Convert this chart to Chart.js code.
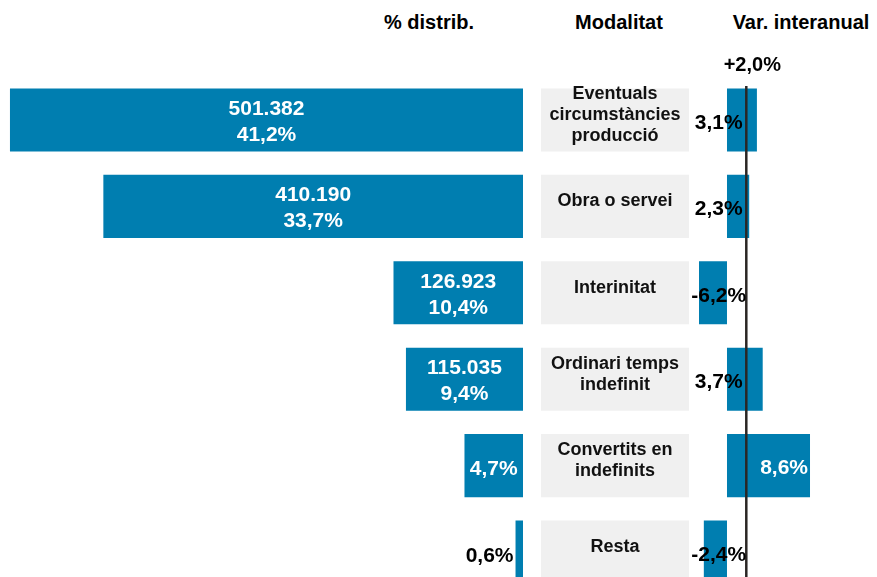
<!DOCTYPE html>
<html>
<head>
<meta charset="utf-8">
<script src="https://cdn.jsdelivr.net/npm/chart.js@4.4.1/dist/chart.umd.min.js"></script>
<style>
  html, body { margin: 0; padding: 0; background: #fff; overflow: hidden; }
  #wrap { position: relative; width: 877px; height: 577px; overflow: hidden; font-family: 'Liberation Sans', Arial, sans-serif; }
  .panel { position: absolute; top: 0; height: 600px; }
  .head { position: absolute; top: 10px; width: 200px; text-align: center; font-weight: bold; font-size: 20px; line-height: 24px; color: #000; }
</style>
</head>
<body>
<div id="wrap">
  <div class="head" style="left:329px">% distrib.</div>
  <div class="head" style="left:519px">Modalitat</div>
  <div class="head" style="left:701px">Var. interanual</div>
  <div class="panel" style="left:0;width:523px"><canvas id="left" width="523" height="600"></canvas></div>
  <div class="panel" style="left:541px;width:148px"><canvas id="mid" width="148" height="600"></canvas></div>
  <div class="panel" style="left:680px;width:197px"><canvas id="right" width="197" height="600"></canvas></div>
</div>
<script>
const categories = [
  ['Eventuals', 'circumstàncies', 'producció'],
  ['Obra o servei'],
  ['Interinitat'],
  ['Ordinari temps', 'indefinit'],
  ['Convertits en', 'indefinits'],
  ['Resta']
];
const contracts = [501382, 410190, 126923, 115035, null, null];
const distribution = [41.2, 33.7, 10.4, 9.4, 4.7, 0.6];
const variation = [3.1, 2.3, -6.2, 3.7, 8.6, -2.4];
const averageVariation = 2.0;

const BLUE = '#007eb0';
const FONT = '"Liberation Sans", Arial, sans-serif';
const PAD = { top: 76.8, bottom: 4.8, left: 0, right: 0 };

function fmtInt(n) {
  return String(n).replace(/\B(?=(\d{3})+(?!\d))/g, '.');
}
function fmtPct(v) {
  return v.toFixed(1).replace('.', ',') + '%';
}

function baseOptions(xScale, padding) {
  return {
    indexAxis: 'y',
    responsive: false,
    animation: false,
    events: [],
    layout: { padding },
    plugins: { legend: { display: false }, tooltip: { enabled: false } },
    scales: {
      x: Object.assign({ display: false, grid: { display: false } }, xScale),
      y: { display: false, grid: { display: false } }
    }
  };
}

function barDataset(data, color) {
  return { data, backgroundColor: color, borderWidth: 0, barPercentage: 0.73, categoryPercentage: 1 };
}

// labels on the distribution bars
const leftLabels = {
  id: 'leftLabels',
  afterDatasetsDraw(chart) {
    const ctx = chart.ctx;
    const meta = chart.getDatasetMeta(0);
    ctx.save();
    ctx.font = 'bold 21px ' + FONT;
    ctx.textBaseline = 'middle';
    meta.data.forEach((bar, i) => {
      const pct = fmtPct(distribution[i]);
      const width = Math.abs(bar.base - bar.x);
      const cx = (bar.x + bar.base) / 2;
      const cy = bar.y + 2;
      if (contracts[i] != null) {
        ctx.fillStyle = '#fff';
        ctx.textAlign = 'center';
        ctx.fillText(fmtInt(contracts[i]), cx, cy - 13);
        ctx.fillText(pct, cx, cy + 13);
      } else if (ctx.measureText(pct).width + 6 < width) {
        ctx.fillStyle = '#fff';
        ctx.textAlign = 'center';
        ctx.fillText(pct, cx, bar.y + 4);
      } else {
        ctx.fillStyle = '#000';
        ctx.textAlign = 'right';
        ctx.fillText(pct, bar.x - 2, bar.y + 4);
      }
    });
    ctx.restore();
  }
};

// category names inside the grey boxes
const midLabels = {
  id: 'midLabels',
  afterDatasetsDraw(chart) {
    const ctx = chart.ctx;
    const meta = chart.getDatasetMeta(0);
    ctx.save();
    ctx.font = 'bold 18px ' + FONT;
    ctx.textAlign = 'center';
    ctx.textBaseline = 'middle';
    ctx.fillStyle = '#111';
    meta.data.forEach((bar, i) => {
      const lines = categories[i];
      const cx = (bar.x + bar.base) / 2;
      const top = bar.y - 5 - (lines.length - 1) * 21 / 2;
      lines.forEach((t, k) => ctx.fillText(t, cx, top + k * 21));
    });
    ctx.restore();
  }
};

// variation labels and the average line
const rightLabels = {
  id: 'rightLabels',
  afterDatasetsDraw(chart) {
    const ctx = chart.ctx;
    const xs = chart.scales.x;
    const meta = chart.getDatasetMeta(0);
    ctx.save();
    const ax = xs.getPixelForValue(averageVariation);
    ctx.strokeStyle = '#2a2624';
    ctx.lineWidth = 2.5;
    ctx.beginPath();
    ctx.moveTo(ax, 86);
    ctx.lineTo(ax, chart.height);
    ctx.stroke();

    ctx.font = 'bold 21px ' + FONT;
    ctx.textBaseline = 'middle';
    meta.data.forEach((bar, i) => {
      const txt = fmtPct(variation[i]);
      const width = bar.x - bar.base;
      if (width > ctx.measureText(txt).width + 10) {
        ctx.fillStyle = '#fff';
        ctx.textAlign = 'right';
        ctx.fillText(txt, bar.x - 2, bar.y + 3);
      } else {
        ctx.fillStyle = '#000';
        ctx.textAlign = 'center';
        ctx.fillText(txt, xs.getPixelForValue(-0.85), bar.y + 3);
      }
    });

    ctx.font = 'bold 20px ' + FONT;
    ctx.fillStyle = '#000';
    ctx.textAlign = 'center';
    ctx.fillText('+' + fmtPct(averageVariation), ax + 6, 65);
    ctx.restore();
  }
};

const labels = categories.map(c => c.join(' '));

new Chart(document.getElementById('left'), {
  type: 'bar',
  data: { labels, datasets: [barDataset(distribution, BLUE)] },
  options: baseOptions({ reverse: true, min: 0, max: 42.0 }, PAD),
  plugins: [leftLabels]
});

new Chart(document.getElementById('mid'), {
  type: 'bar',
  data: { labels, datasets: [barDataset(categories.map(() => 1), '#f0f0f0')] },
  options: baseOptions({ min: 0, max: 1 }, PAD),
  plugins: [midLabels]
});

new Chart(document.getElementById('right'), {
  type: 'bar',
  data: { labels, datasets: [barDataset(variation, BLUE)] },
  options: baseOptions({ min: -2.9, max: 15.54 }, Object.assign({}, PAD, { left: 19 })),
  plugins: [rightLabels]
});
</script>
</body>
</html>
